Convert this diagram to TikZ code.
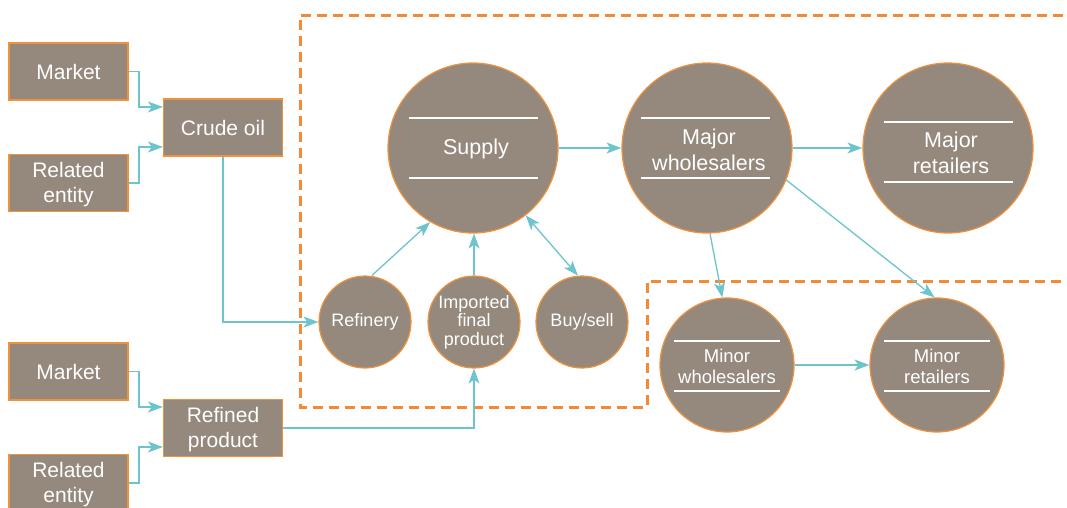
\documentclass[tikz,border=0pt]{standalone}
\usepackage{fontspec}
\setmainfont{Liberation Sans}
\usetikzlibrary{arrows.meta}
\definecolor{boxfill}{RGB}{149,137,126}
\definecolor{boxedge}{RGB}{240,146,60}
\definecolor{teal}{RGB}{108,197,205}
\definecolor{dashor}{RGB}{245,138,51}
\tikzset{
  rectbox/.style={draw=boxedge, line width=1.2pt, fill=boxfill, text=white, minimum width=119pt, minimum height=57pt, align=center, font=\fontsize{21}{25}\selectfont, inner sep=0pt},
  bigc/.style={circle, draw=boxedge, line width=1.2pt, fill=boxfill, text=white, minimum size=170pt, inner sep=0pt, align=center, font=\fontsize{21.5}{26}\selectfont},
  smallc/.style={circle, draw=boxedge, line width=1.2pt, fill=boxfill, text=white, minimum size=92pt, inner sep=0pt, align=center, font=\fontsize{18}{19}\selectfont},
  midc/.style={circle, draw=boxedge, line width=1.2pt, fill=boxfill, text=white, minimum size=134pt, inner sep=0pt, align=center, font=\fontsize{18.5}{21}\selectfont},
  ctext/.style={text=white, align=center, inner sep=0pt},
  conn/.style={draw=teal, line width=1.3pt, -{Stealth[length=15pt,width=11pt,inset=4pt]}},
  conn2/.style={draw=teal, line width=1.3pt, {Stealth[length=15pt,width=11pt,inset=4pt]}-{Stealth[length=15pt,width=11pt,inset=4pt]}},
  wline/.style={draw=white, line width=1.2pt},
  dashbox/.style={draw=dashor, line width=3pt, dash pattern=on 10pt off 6pt}
}
\begin{document}
\begin{tikzpicture}[x=1pt,y=-1pt]
\useasboundingbox (0,0) rectangle (1067,507);
% dashed regions
\draw[dashbox] (1063,15) -- (300,15) -- (300,407) -- (647,407) -- (647,281) -- (1067,281);
% left boxes
\node[rectbox] (m1) at (68.5,71.5) {Market};
\node[rectbox] (r1) at (68.5,183) {};
\node[ctext, font=\fontsize{21}{25}\selectfont] (r1t) at (68.5,185) {Related\\entity};
\node[rectbox] (crude) at (223,127.5) {Crude oil};
\node[rectbox] (m2) at (68.5,371.5) {Market};
\node[rectbox] (r2) at (68.5,483) {};
\node[ctext, font=\fontsize{21}{25}\selectfont] (r2t) at (68.5,485) {Related\\entity};
\node[rectbox] (refp) at (223,428) {};
\node[ctext, font=\fontsize{21}{25}\selectfont] (refpt) at (223,430) {Refined\\product};
% circles
\node[bigc] (supply) at (473,148) {};
\node[ctext, font=\fontsize{21.5}{26}\selectfont] (supplyt) at (476,149) {Supply};
\node[smallc] (refinery) at (365,322) {Refinery};
\node[smallc, font=\fontsize{18}{18.5}\selectfont] (imported) at (474,322) {Imported\\final\\product};
\node[smallc] (buysell) at (582,322) {Buy/sell};
\node[bigc] (majw) at (707,148) {};
\node[ctext, font=\fontsize{21.5}{26}\selectfont] (majwt) at (709,150) {Major\\wholesalers};
\node[bigc] (majr) at (948,148) {};
\node[ctext, font=\fontsize{21.5}{26}\selectfont] (majrt) at (951,153) {Major\\retailers};
\node[midc] (minw) at (727,365) {};
\node[ctext, font=\fontsize{18.5}{21}\selectfont] (minwt) at (727,366) {Minor\\wholesalers};
\node[midc] (minr) at (937,365) {};
\node[ctext, font=\fontsize{18.5}{21}\selectfont] (minrt) at (937,366) {Minor\\retailers};
% white rules inside circles
\draw[wline] (409,118) -- (538,118);
\draw[wline] (409,178) -- (538,178);
\draw[wline] (641,118) -- (770,118);
\draw[wline] (641,178) -- (770,178);
\draw[wline] (884,122) -- (1013,122);
\draw[wline] (884,182) -- (1013,182);
\draw[wline] (674,341) -- (780,341);
\draw[wline] (674,391) -- (780,391);
\draw[wline] (884,341) -- (990,341);
\draw[wline] (884,391) -- (990,391);
% connectors
\draw[conn] (m1.east) -- (139,71.5) -- (139,107) -- (crude.west |- 0,107);
\draw[conn] (r1.east) -- (139,183) -- (139,147) -- (crude.west |- 0,147);
\draw[conn] (m2.east) -- (139,371.5) -- (139,407) -- (refp.west |- 0,407);
\draw[conn] (r2.east) -- (139,483) -- (139,447) -- (refp.west |- 0,447);
\draw[conn] (crude.south) -- (223,322) -- (refinery.west);
\draw[conn] (refp.east) -- (imported.south |- refp.east) -- (imported.south);
\draw[conn] (refinery.north) ++(7,0) coordinate (rf1) (rf1) -- (supply.240);
\draw[conn] (imported.north) -- (imported.north |- supply.south);
\draw[conn2] (supply.-52) -- (buysell.95);
\draw[conn] (supply.east) -- (majw.west);
\draw[conn] (majw.east) -- (majr.west);
\draw[conn] (majw.-88) -- (minw.94);
\draw[conn] (majw.-22) -- (minr.92);
\draw[conn] (minw.east) -- (minr.west);
\end{tikzpicture}
\end{document}
